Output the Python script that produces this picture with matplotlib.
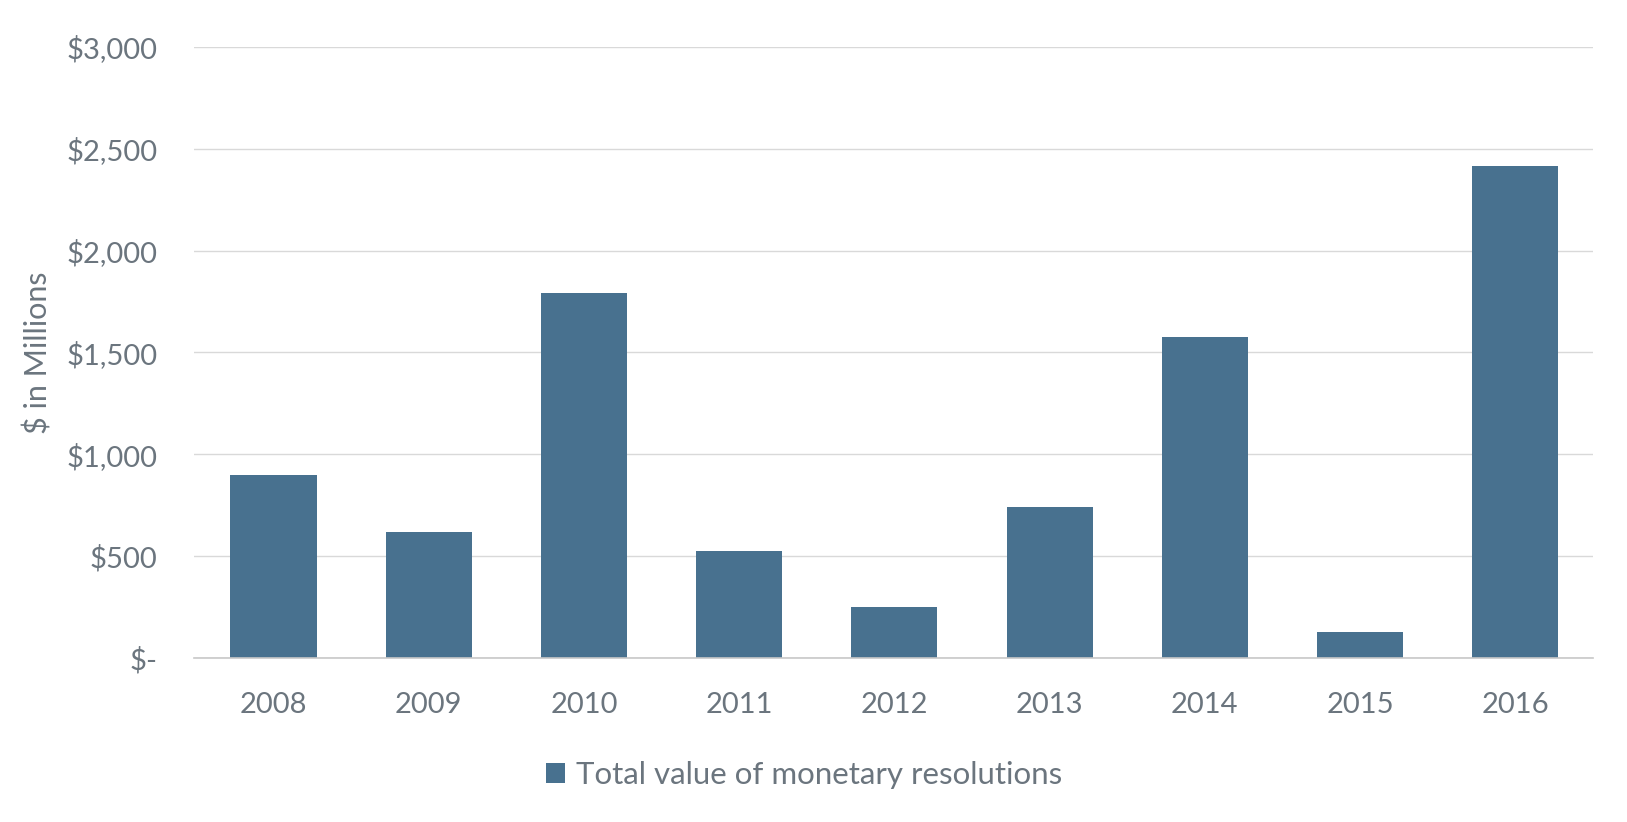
import matplotlib
matplotlib.use("Agg")
import matplotlib.pyplot as plt
from matplotlib.ticker import FuncFormatter

years = ["2008", "2009", "2010", "2011", "2012", "2013", "2014", "2015", "2016"]
totals = [900, 620, 1790, 525, 250, 740, 1575, 125, 2415]   # $ millions
series_name = "Total value of monetary resolutions"

bar_color = "#48718f"
text_color = "#6b757e"

plt.rcParams["font.family"] = ["Lato", "DejaVu Sans"]

fig = plt.figure(figsize=(16.27, 8.22), dpi=100)
ax = fig.add_axes([0.119, 0.1998, 0.860, 0.743])

ax.bar(range(len(years)), totals, width=0.555, color=bar_color,
       label=series_name, zorder=3)

ax.set_xlim(-0.515, len(years) - 0.5)
ax.set_ylim(0, 3000)
ax.set_yticks(range(0, 3001, 500))
ax.yaxis.set_major_formatter(FuncFormatter(
    lambda v, p: "$-" if v == 0 else "${:,.0f}".format(v)))
ax.set_xticks(range(len(years)))
ax.set_xticklabels(years)

ax.grid(axis="y", color="#d9d9d9", linewidth=1.0, zorder=0)
for s in ["top", "right", "left"]:
    ax.spines[s].set_visible(False)
ax.spines["bottom"].set_color("#c8c8c8")
ax.spines["bottom"].set_linewidth(1.2)
ax.spines["bottom"].set_zorder(4)

ax.tick_params(axis="both", length=0, labelsize=21, labelcolor=text_color)
ax.tick_params(axis="y", pad=26)
ax.tick_params(axis="x", pad=25)

ax.set_ylabel("$ in Millions", fontsize=22, color=text_color)
ax.yaxis.set_label_coords(-0.101, 0.5)

fig.legend(loc="center", bbox_to_anchor=(804 / 1627, 1 - 775 / 822),
           frameon=False, fontsize=22.5, labelcolor=text_color,
           handlelength=0.6, handleheight=0.6, handletextpad=0.35)

fig.savefig("out.png", dpi=100, facecolor="white")
